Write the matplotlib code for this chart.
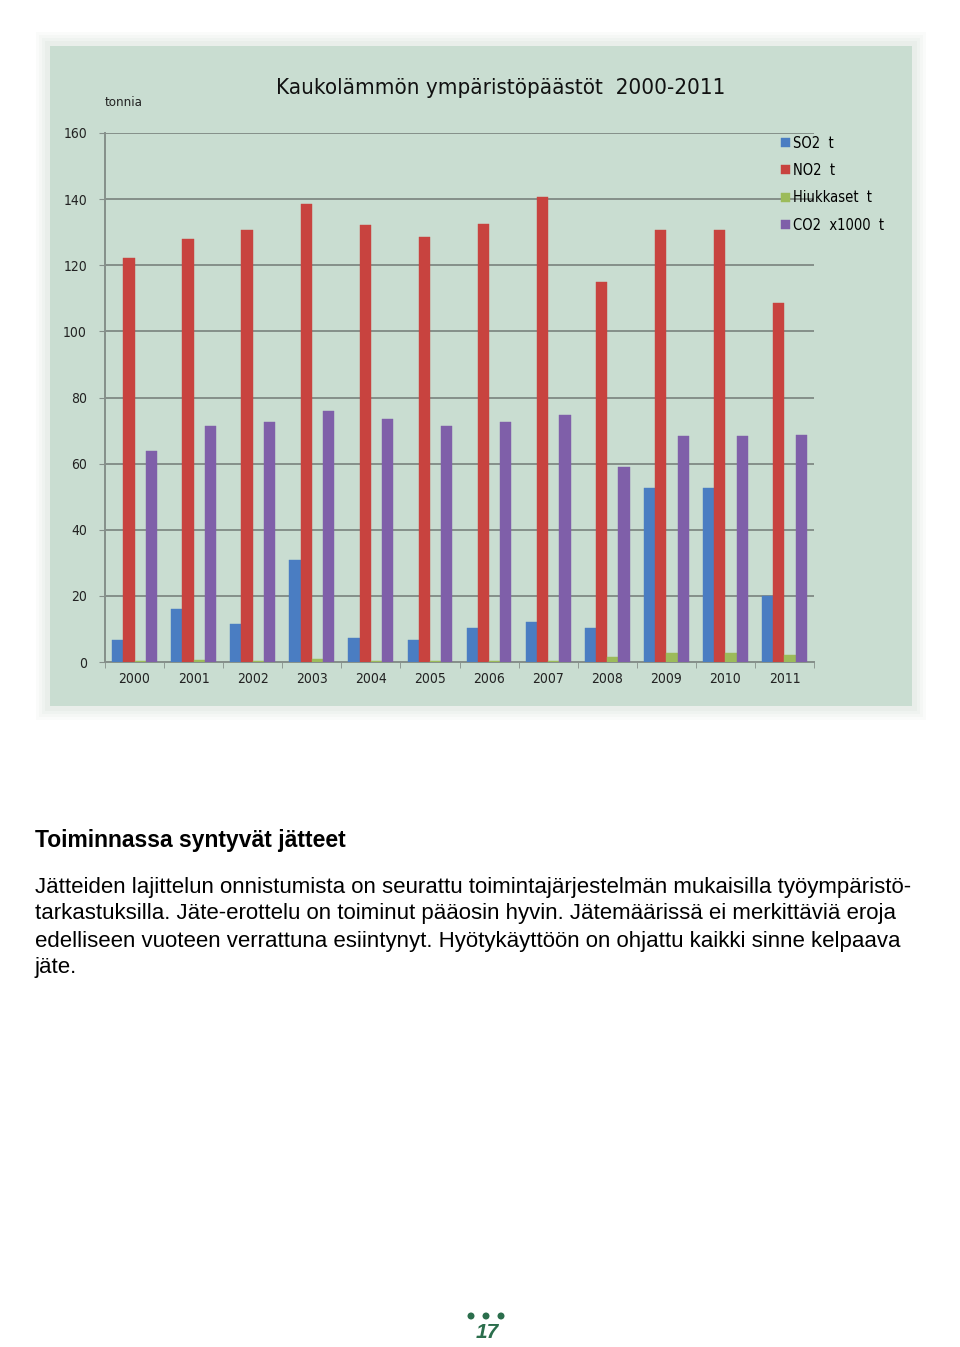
import numpy as np
import matplotlib.pyplot as plt
from matplotlib.patches import Rectangle, Ellipse

# Kaukolämmön ympäristöpäästöt 2000-2011
years = ["2000", "2001", "2002", "2003", "2004", "2005",
         "2006", "2007", "2008", "2009", "2010", "2011"]
so2 = [6.7, 16.0, 11.5, 30.9, 7.3, 6.7, 10.3, 12.1, 10.3, 52.6, 52.6, 20.0]
no2 = [122.2, 128.0, 130.7, 138.5, 132.2, 128.6, 132.5, 140.7, 115.0, 130.7, 130.7, 108.6]
hiukkaset = [0.3, 0.5, 0.3, 0.8, 0.3, 0.3, 0.3, 0.3, 1.5, 2.7, 2.7, 2.1]
co2 = [63.8, 71.4, 72.6, 75.9, 73.5, 71.4, 72.6, 74.7, 59.0, 68.4, 68.4, 68.7]

series = [so2, no2, hiukkaset, co2]
labels = ["SO2  t", "NO2  t", "Hiukkaset  t", "CO2  x1000  t"]
colors = ["#4a7dc2", "#c8433f", "#9cbb5a", "#7f5fa9"]

W, H = 960, 1347
fig = plt.figure(figsize=(W / 100, H / 100), dpi=100)
fig.patch.set_facecolor("white")

narrow = dict(family="DejaVu Sans", stretch="condensed")
panel_bg = "#c9ddd1"

# varjo + paneeli
for i, a in enumerate([0.05, 0.05, 0.06, 0.07]):
    d = (4 - i) * 3
    fig.patches.append(Rectangle(((48 - d) / W, 1 - (708 + d) / H), (866 + 2 * d) / W,
                                 (664 + 2 * d) / H, transform=fig.transFigure,
                                 facecolor="#9fb5a8", alpha=a, edgecolor="none", zorder=0))
fig.patches.append(Rectangle((50 / W, 1 - 706 / H), 862 / W, 660 / H,
                             transform=fig.transFigure, facecolor=panel_bg,
                             edgecolor="none", zorder=0))

ax = fig.add_axes([105 / W, 1 - 662 / H, 709 / W, 529 / H])
ax.set_zorder(2)
ax.set_facecolor("none")

x = np.arange(len(years))
bw = 0.19
for i, (vals, lab, c) in enumerate(zip(series, labels, colors)):
    ax.bar(x + (i - 1.5) * bw, vals, bw, color=c, label=lab, zorder=3,
           edgecolor=c, linewidth=0.3)

ax.set_xlim(-0.5, len(years) - 0.5)
ax.set_ylim(0, 160)
ax.set_yticks(range(0, 161, 20))
ax.yaxis.grid(True, color="#858f8a", linewidth=1.4, zorder=1)
ax.set_xticks(x)
ax.set_xticklabels(years, fontsize=10, color="#222222", **narrow)
ax.set_xticks(np.arange(-0.5, len(years), 1), minor=True)
ax.tick_params(axis="x", which="major", length=0, pad=7)
ax.tick_params(axis="x", which="minor", length=4, color="#858f8a")
ax.tick_params(axis="y", length=4, color="#858f8a", labelsize=10, labelcolor="#222222", pad=9)
for t in ax.get_yticklabels():
    t.set_fontfamily("DejaVu Sans")
    t.set_fontstretch("condensed")
for s in ["top", "right"]:
    ax.spines[s].set_visible(False)
for s in ["left", "bottom"]:
    ax.spines[s].set_color("#858f8a")
    ax.spines[s].set_linewidth(1.4)

leg = ax.legend(loc="upper left", bbox_to_anchor=(0.935, 1.02), frameon=False,
                prop={"family": "DejaVu Sans", "stretch": "condensed", "size": 10.5},
                handlelength=0.6, handleheight=0.6,
                handletextpad=0.2, labelspacing=0.85)

fig.text(501 / W, 1 - 88 / H, "Kaukolämmön ympäristöpäästöt  2000-2011", ha="center",
         va="center", fontsize=16, fontweight="medium", color="#111111", **narrow)
fig.text(105 / W, 1 - 102 / H, "tonnia", ha="left", va="center", fontsize=9.5,
         color="#222222", **narrow)

# leipäteksti
body = "Liberation Sans"
fig.text(35 / W, 1 - 840 / H, "Toiminnassa syntyvät jätteet", ha="left", va="center",
         fontsize=16.5, fontweight="bold", family=body)
lines = [
    "Jätteiden lajittelun onnistumista on seurattu toimintajärjestelmän mukaisilla työympäristö-",
    "tarkastuksilla. Jäte-erottelu on toiminut pääosin hyvin. Jätemäärissä ei merkittäviä eroja",
    "edelliseen vuoteen verrattuna esiintynyt. Hyötykäyttöön on ohjattu kaikki sinne kelpaava",
    "jäte.",
]
for i, ln in enumerate(lines):
    fig.text(35 / W, 1 - (887 + 27 * i) / H, ln, ha="left", va="center",
             fontsize=16, family=body)

# sivunumero
green = "#2b6e4c"
for cx in [471, 486, 501]:
    fig.patches.append(Ellipse((cx / W, 1 - 1316 / H), 7 / W, 7 / H, transform=fig.transFigure,
                               facecolor=green, edgecolor="none"))
fig.text(487 / W, 1 - 1333 / H, "17", ha="center", va="center", fontsize=15,
         fontweight="bold", fontstyle="italic", color=green, family=body)

fig.savefig("out.png", dpi=100)
